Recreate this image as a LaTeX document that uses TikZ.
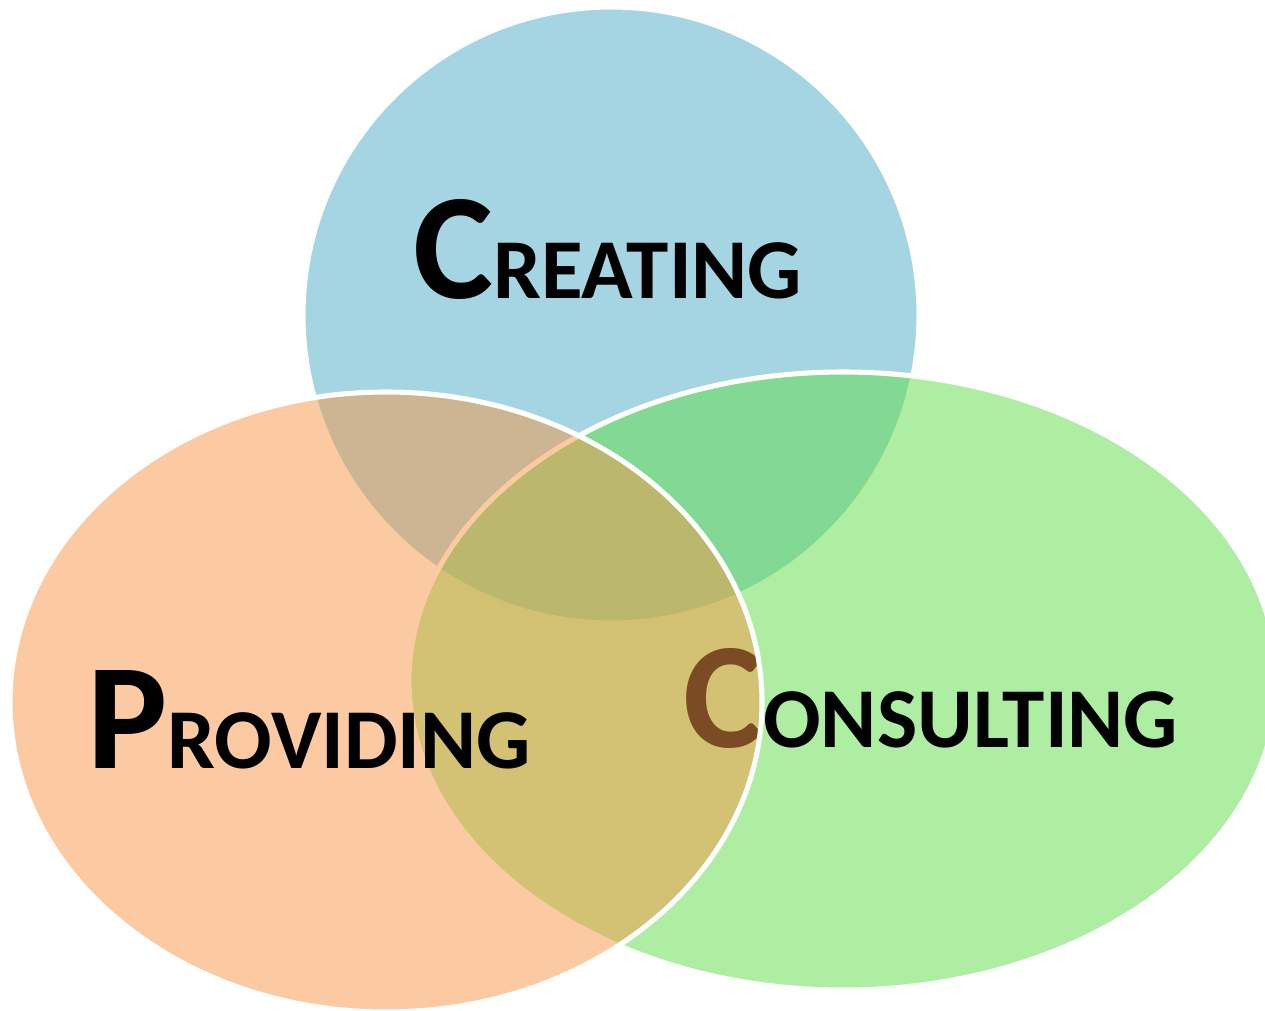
\documentclass[tikz,border=0pt]{standalone}
\usepackage{fontspec}
\setmainfont{Carlito}
\usepackage{tikz}

\definecolor{creatingblue}{RGB}{75,172,198}
\definecolor{consultgreen}{RGB}{94,221,70}
\definecolor{provideorange}{RGB}{247,150,70}

\newcommand\capword[2]{\bfseries{\fontsize{86}{86}\selectfont #1}{\fontsize{48.5}{48.5}\selectfont #2}}

\begin{document}
\begin{tikzpicture}[x=0.02cm,y=-0.02cm]
  \tikzstyle set=[draw=white,line width=2.9pt,fill opacity=0.5,draw opacity=1];
  \tikzstyle word=[anchor=base west,inner sep=0pt,text=black];

  \useasboundingbox (0,0) rectangle (1265,1011);
  \clip (0,0) rectangle (1265,1011);

  % creating
  \filldraw[set,fill=creatingblue] (611,315) circle [radius=308];
  \node[word] (creating) at (413,298) {\capword{C}{REATING}};

  % consulting
  \filldraw[set,fill=consultgreen] (843,681) ellipse [x radius=434, y radius=309];
  \node[word] (consulting) at (683,747) {\capword{C}{ONSULTING}};

  % providing
  \filldraw[set,fill=provideorange] (386,702) ellipse [x radius=376, y radius=310];
  \node[word] (providing) at (87,768) {\capword{P}{ROVIDING}};
\end{tikzpicture}
\end{document}
